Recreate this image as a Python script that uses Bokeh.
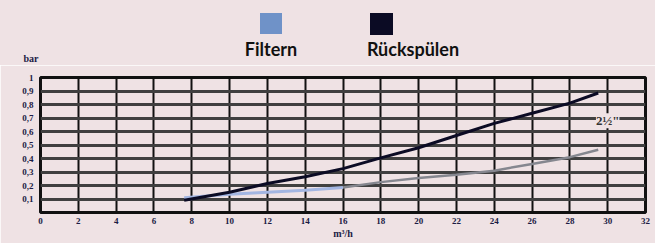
from bokeh.plotting import figure
from bokeh.layouts import column
from bokeh.models import FixedTicker, Label, Div
from bokeh.embed import file_html
from bokeh.resources import INLINE

# ---- data ----
flow = [7.6, 10, 12, 14, 16, 18, 20, 22, 24, 26, 28, 29.5]
rueckspuelen = [0.09, 0.15, 0.215, 0.265, 0.325, 0.405, 0.48, 0.57, 0.66, 0.735, 0.81, 0.885]
filtern = [0.11, 0.135, 0.15, 0.165, 0.185, 0.225, 0.255, 0.28, 0.31, 0.36, 0.41, 0.465]
x_ticks = [0, 2, 4, 6, 8, 10, 12, 14, 16, 18, 20, 22, 24, 26, 28, 30, 32]
y_ticks = [0.1, 0.2, 0.3, 0.4, 0.5, 0.6, 0.7, 0.8, 0.9, 1.0]
y_tick_labels = ["0,1", "0,2", "0,3", "0,4", "0,5", "0,6", "0,7", "0,8", "0,9", "1"]
series_names = ["Filtern", "Rückspülen"]
series_colors = ["#6f92c8", "#0b0b24"]

BG = "#efe2e4"
TXT = "#1c1c44"
W = 655
TOP_H = 65

# ---- header (legend + unit label) as HTML ----
sq_box = [(260, 13, 22, 21), (370, 13, 23, 22)]
txt_center = [271, 413]
parts = []
for name, col, (l, t, w, hh), cx in zip(series_names, series_colors, sq_box, txt_center):
    parts.append(
        '<div style="position:absolute;left:%dpx;top:%dpx;width:%dpx;height:%dpx;background:%s"></div>'
        % (l, t, w, hh, col))
    parts.append(
        '<div style="position:absolute;left:%dpx;top:40px;width:140px;text-align:center;'
        'font-family:Lato;font-weight:bold;font-size:18px;line-height:18px;color:#111111;'
        'white-space:nowrap">%s</div>' % (cx - 70, name))
parts.append(
    '<div style="position:absolute;left:11px;top:54px;width:40px;text-align:center;'
    'font-family:\'Liberation Sans Narrow\';font-weight:bold;font-size:10px;line-height:10px;'
    'color:%s">bar</div>' % TXT)
header_html = ('<div style="position:relative;width:%dpx;height:%dpx;background:%s">%s</div>'
               % (W, TOP_H, BG, "".join(parts)))
header = Div(text=header_html, width=W, height=TOP_H, margin=(0, 0, 0, 0),
             styles={"background": BG})

# ---- main chart ----
p = figure(width=W, height=243 - TOP_H, x_range=(0, 32), y_range=(0, 1),
           output_backend="svg", toolbar_location=None,
           min_border_left=40, min_border_right=10, min_border_top=12, min_border_bottom=31)
p.background_fill_color = BG
p.border_fill_color = BG
p.outline_line_color = "#111111"
p.outline_line_width = 3

p.xaxis.ticker = FixedTicker(ticks=x_ticks)
p.yaxis.ticker = FixedTicker(ticks=y_ticks)
p.yaxis.major_label_overrides = {t: l for t, l in zip(y_ticks, y_tick_labels)}
for ax in (p.xaxis, p.yaxis):
    ax.axis_line_color = None
    ax.major_tick_line_color = None
    ax.minor_tick_line_color = None
    ax.major_tick_out = 0
    ax.major_tick_in = 0
    ax.major_label_text_font = "Liberation Sans Narrow"
    ax.major_label_text_font_style = "bold"
    ax.major_label_text_font_size = "9px"
    ax.major_label_text_color = TXT
p.yaxis.major_label_standoff = 7
p.xaxis.major_label_standoff = 5
p.xaxis.axis_label = "m³/h"
p.xaxis.axis_label_text_font = "Liberation Sans Narrow"
p.xaxis.axis_label_text_font_style = "bold"
p.xaxis.axis_label_text_font_size = "10px"
p.xaxis.axis_label_text_color = TXT
p.xaxis.axis_label_standoff = 1

p.ygrid.grid_line_color = "#404040"
p.ygrid.grid_line_width = 3
p.xgrid.grid_line_color = "#111111"
p.xgrid.grid_line_width = 2

# Filtern: light blue part, then grey part
split = 5
p.line(flow[:split], filtern[:split], line_color="#a3b6e2", line_width=3)
p.line(flow[split - 1:], filtern[split - 1:], line_color="#85878f", line_width=2.5)
p.line(flow, rueckspuelen, line_color=series_colors[1], line_width=3)

p.add_layout(Label(x=30, y=0.68, text="2½\"", text_align="center", text_baseline="middle",
                   text_font="Liberation Sans Narrow", text_font_style="bold",
                   text_font_size="13px", text_color="#333333",
                   background_fill_color=BG, background_fill_alpha=1.0))

layout = column(header, p, spacing=0)
html = file_html(layout, INLINE)
html = html.replace("<body>", '<body style="background:%s">' % BG, 1)
open("out.html", "w").write(html)
